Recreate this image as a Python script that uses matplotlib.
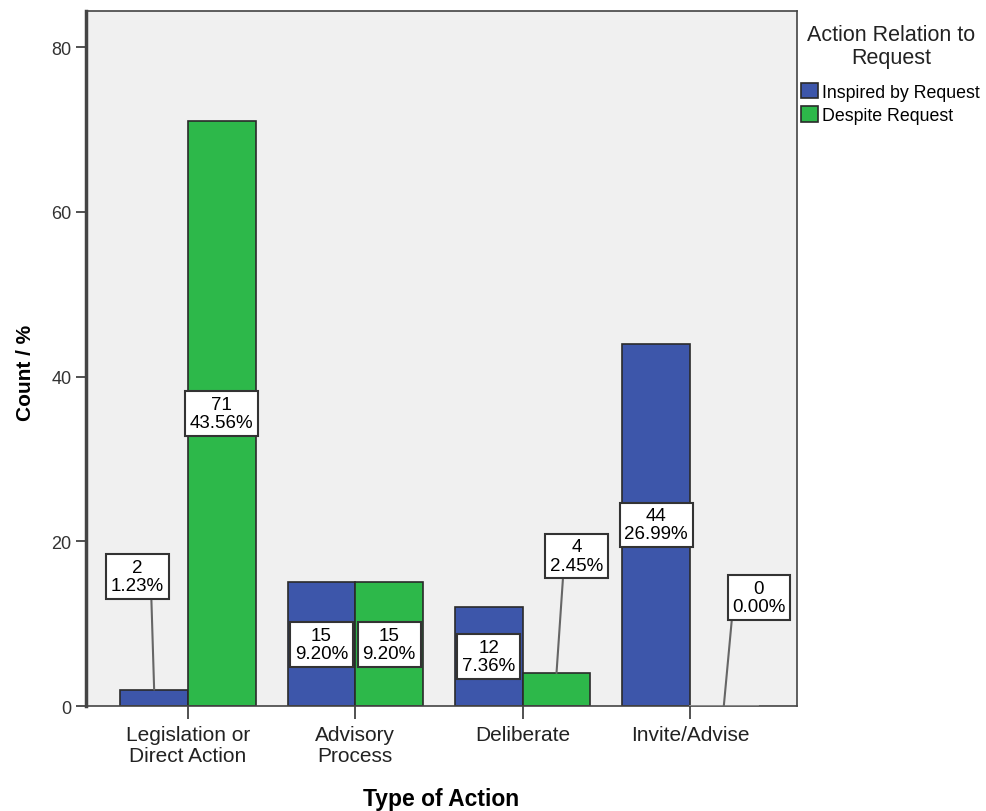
import numpy as np
import matplotlib
matplotlib.use("Agg")
from matplotlib import pyplot as plt

plt.rcParams['font.family'] = ['Liberation Sans', 'DejaVu Sans']

categories = ["Legislation or\nDirect Action", "Advisory\nProcess", "Deliberate", "Invite/Advise"]
inspired = [2, 15, 12, 44]
despite = [71, 15, 4, 0]
inspired_pct = ["1.23%", "9.20%", "7.36%", "26.99%"]
despite_pct = ["43.56%", "9.20%", "2.45%", "0.00%"]
series_names = ["Inspired by Request", "Despite Request"]

blue = "#3D56AA"
green = "#2DB84A"
w = 0.405

fig = plt.figure(figsize=(9.87, 8.12), dpi=100)
ax = fig.add_axes([0.0871, 0.1293, 0.7204, 0.8559])
ax.set_facecolor("#F0F0F0")

x = np.arange(len(categories))
ax.bar(x - w/2, inspired, w, color=blue, edgecolor="#2a2a2a", linewidth=1.2, label=series_names[0])
ax.bar(x + w/2, despite, w, color=green, edgecolor="#2a2a2a", linewidth=1.2, label=series_names[1])

# zero-height bar shows as a thin gray line on the baseline
for i, v in enumerate(despite):
    if v == 0:
        ax.plot([x[i], x[i] + w], [0, 0], color="#9a9a9a", lw=1.2, zorder=3)

box = dict(boxstyle="square,pad=0.25", fc="white", ec="#333333", lw=1.5)

# labels for small bars sit outside with a leader line: (dx, y, attach point on box)
outside = {(0, 0): (-0.1, 15.7, 0.76), (1, 2): (0.12, 18.2, 0.25), (1, 3): (0.21, 13.2, 0.0)}

for s, (vals, pcts, off) in enumerate([(inspired, inspired_pct, -w/2), (despite, despite_pct, w/2)]):
    for i, v in enumerate(vals):
        txt = f"{v}\n{pcts[i]}"
        bx = x[i] + off
        if (s, i) in outside:
            dx, ty, rp = outside[(s, i)]
            ax.annotate(txt, xy=(bx, v), xytext=(bx + dx, ty), ha="center", va="center",
                        fontsize=13.5, linespacing=1.1, bbox=box, zorder=5,
                        arrowprops=dict(arrowstyle="-", color="#666666", lw=1.5,
                                        shrinkA=0, shrinkB=0, relpos=(rp, 0)))
        else:
            ax.text(bx, v / 2, txt, ha="center", va="center", fontsize=13.5,
                    linespacing=1.1, bbox=box, zorder=5)

ax.set_xlim(-0.61, 3.64)
ax.set_ylim(0, 84.4)
ax.set_yticks([0, 20, 40, 60, 80])
ax.set_xticks(x)
ax.set_xticklabels(categories, fontsize=15, linespacing=1.1, color="#222222")
ax.tick_params(axis="y", labelsize=13, length=7, width=1.2, color="#333333", labelcolor="#333333")
ax.tick_params(axis="x", length=9, width=1.2, color="#333333", pad=5)
for sp in ax.spines.values():
    sp.set_color("#444444")
    sp.set_linewidth(1.2)
ax.spines["left"].set_linewidth(2.5)

ax.set_xlabel("Type of Action", fontsize=16.5, fontweight="bold", labelpad=16)
ax.set_ylabel("Count / %", fontsize=15, fontweight="bold")
ax.yaxis.set_label_coords(-0.072, 0.48)

fig.text(891/987, 1 - 47/812, "Action Relation to\nRequest", ha="center", va="center",
         multialignment="center", fontsize=15.5, color="#222222", linespacing=1.15)
ax.legend(loc="upper left", bbox_to_anchor=(797/987, 1 - 80/812), bbox_transform=fig.transFigure,
          frameon=False, fontsize=12.8, handlelength=1.0, handleheight=1.0,
          handletextpad=0.2, labelspacing=0.3, borderaxespad=0.0, borderpad=0.2)

fig.savefig("out.png", dpi=100)
